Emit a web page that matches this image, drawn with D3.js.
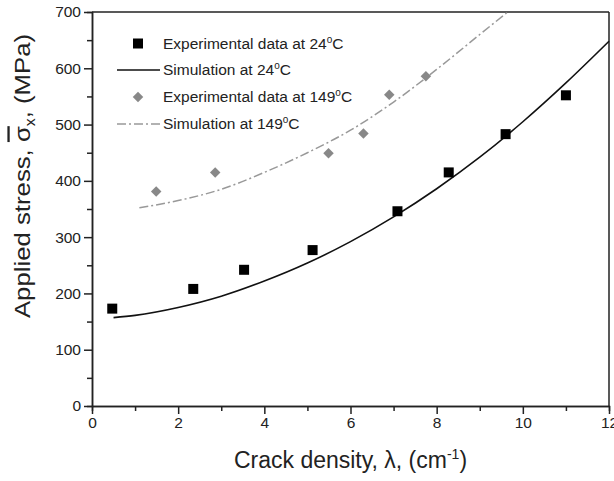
<!DOCTYPE html>
<html>
<head>
<meta charset="utf-8">
<script src="https://cdn.jsdelivr.net/npm/d3@7"></script>
<style>
  body { margin: 0; background: #fff; }
  text { font-family: 'Liberation Sans', Arial, sans-serif; fill: #222; }
</style>
</head>
<body>
<div id="chart"></div>
<script>
// Data
const exp24X = [0.47, 2.35, 3.53, 5.12, 7.09, 8.28, 9.6, 11.0];
const exp24Y = [173, 208, 242, 277, 346, 415, 483, 552];
const sim24X = [0.5, 1, 2, 3, 4, 5, 6, 7, 8, 9, 10, 11, 12];
const sim24Y = [157, 161, 175, 195, 222, 254, 292, 336, 386, 442, 505, 574, 648];
const exp149X = [1.49, 2.86, 5.49, 6.3, 6.9, 7.75];
const exp149Y = [381, 415, 449, 484, 553, 586];
const sim149X = [1.1, 2, 3, 4, 5, 6, 7, 8, 9, 9.65];
const sim149Y = [352, 365, 385, 415, 450, 490, 540, 598, 660, 700];
const xTicks = [0, 2, 4, 6, 8, 10, 12];
const yTicks = [0, 100, 200, 300, 400, 500, 600, 700];
const legendLabels = ['Experimental data at 24', 'Simulation at 24', 'Experimental data at 149', 'Simulation at 149'];

const width = 614, height = 481;
const margin = { top: 12, right: 5, bottom: 75, left: 92 };
const w = width - margin.left - margin.right;
const h = height - margin.top - margin.bottom;

const svg = d3.select('#chart').append('svg')
  .attr('width', width).attr('height', height);
const g = svg.append('g')
  .attr('transform', 'translate(' + margin.left + ',' + margin.top + ')');

const x = d3.scaleLinear().domain([0, 12]).range([0, w]);
const y = d3.scaleLinear().domain([0, 700]).range([h, 0]);

// Clip so the 149C curve stops at the top frame
g.append('clipPath').attr('id', 'clip')
  .append('rect').attr('width', w).attr('height', h);

// Frame (top and right)
g.append('line').attr('x1', 0).attr('x2', w).attr('y1', 0).attr('y2', 0)
  .attr('stroke', '#222').attr('stroke-width', 1.5);
g.append('line').attr('x1', w).attr('x2', w).attr('y1', 0).attr('y2', h)
  .attr('stroke', '#222').attr('stroke-width', 1.5);

// Axes with minor ticks
const xMinor = d3.axisBottom(x).tickValues(d3.range(1, 12, 2)).tickSize(5).tickFormat('');
const yMinor = d3.axisLeft(y).tickValues(d3.range(50, 700, 100)).tickSize(5).tickFormat('');
g.append('g').attr('transform', 'translate(0,' + h + ')').call(xMinor);
g.append('g').call(yMinor);

g.append('g').attr('transform', 'translate(0,' + h + ')')
  .call(d3.axisBottom(x).tickValues(xTicks).tickSize(8).tickSizeOuter(0).tickPadding(3));
g.append('g')
  .call(d3.axisLeft(y).tickValues(yTicks).tickSize(8).tickSizeOuter(0).tickPadding(3));

g.selectAll('.domain, .tick line').attr('stroke', '#222').attr('stroke-width', 1.5);
g.selectAll('.tick text').style('font-size', '15.5px').attr('fill', '#333')
  .style('font-family', "'Liberation Sans', Arial, sans-serif");

// Curves
const line = d3.line().x((d) => x(d[0])).y((d) => y(d[1])).curve(d3.curveMonotoneX);

g.append('path')
  .datum(sim149X.map((v, i) => [v, sim149Y[i]]))
  .attr('clip-path', 'url(#clip)')
  .attr('d', line)
  .attr('fill', 'none')
  .attr('stroke', '#999')
  .attr('stroke-width', 1.5)
  .attr('stroke-dasharray', '9,3,2,3');

g.append('path')
  .datum(sim24X.map((v, i) => [v, sim24Y[i]]))
  .attr('d', line)
  .attr('fill', 'none')
  .attr('stroke', '#111')
  .attr('stroke-width', 1.6);

// Markers
g.selectAll('.sq')
  .data(exp24X.map((v, i) => [v, exp24Y[i]]))
  .enter().append('rect')
  .attr('x', (d) => x(d[0]) - 5)
  .attr('y', (d) => y(d[1]) - 5)
  .attr('width', 10).attr('height', 10)
  .attr('fill', '#000');

const diamond = d3.symbol().type(d3.symbolDiamond2).size(70);
g.selectAll('.dia')
  .data(exp149X.map((v, i) => [v, exp149Y[i]]))
  .enter().append('path')
  .attr('d', diamond)
  .attr('transform', (d) => 'translate(' + x(d[0]) + ',' + y(d[1]) + ')')
  .attr('fill', '#888');

// Legend
const legend = svg.append('g');
const rowY = [43.5, 70, 97, 124];
legendLabels.forEach((label, i) => {
  if (i === 0) {
    legend.append('rect').attr('x', 133).attr('y', rowY[i] - 5)
      .attr('width', 10).attr('height', 10).attr('fill', '#000');
  } else if (i === 1) {
    legend.append('line').attr('x1', 117).attr('x2', 160)
      .attr('y1', rowY[i]).attr('y2', rowY[i])
      .attr('stroke', '#111').attr('stroke-width', 1.6);
  } else if (i === 2) {
    legend.append('path').attr('d', diamond)
      .attr('transform', 'translate(138,' + rowY[i] + ')').attr('fill', '#888');
  } else {
    legend.append('line').attr('x1', 117).attr('x2', 160)
      .attr('y1', rowY[i]).attr('y2', rowY[i])
      .attr('stroke', '#999').attr('stroke-width', 1.5)
      .attr('stroke-dasharray', '9,3,2,3');
  }
  const t = legend.append('text').attr('x', 163).attr('y', rowY[i] + 5)
    .style('font-size', '15.5px').attr('fill', '#222');
  t.append('tspan').text(label);
  t.append('tspan').attr('dy', -6).style('font-size', '10px').text('o');
  t.append('tspan').attr('dy', 6).text('C');
});

// Axis titles
const xt = svg.append('text')
  .attr('x', margin.left + w / 2).attr('y', 468)
  .attr('text-anchor', 'middle')
  .style('font-size', '23px');
xt.append('tspan').text('Crack density, \u03bb, (cm');
xt.append('tspan').attr('dy', -9).style('font-size', '14px').text('-1');
xt.append('tspan').attr('dy', 9).text(')');

const yt = svg.append('text')
  .attr('transform', 'translate(30,176) rotate(-90) scale(1.12,1)')
  .attr('text-anchor', 'middle')
  .style('font-size', '23px');
yt.append('tspan').text('Applied stress, ');
yt.append('tspan').style('text-decoration', 'overline').text('\u03c3');
yt.append('tspan').attr('dy', 5).style('font-size', '14px').text('x');
yt.append('tspan').attr('dy', -5).text(', (MPa)');
</script>
</body>
</html>
